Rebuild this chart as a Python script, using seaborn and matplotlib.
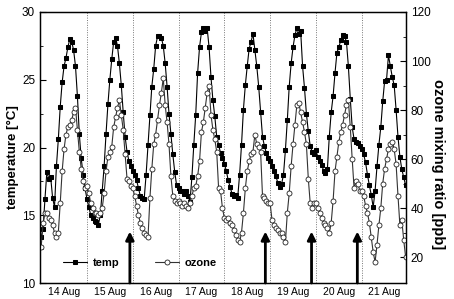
import numpy as np
import pandas as pd
import matplotlib
matplotlib.use("Agg")
from matplotlib import pyplot as plt
import seaborn as sns

# hourly values, 14 Aug 00:00 .. 21 Aug 23:00 (one line per day)
temp = [
    13.4, 14.0, 16.2, 18.2, 17.7, 17.8, 16.3, 15.6, 18.6, 20.6, 23.0, 24.8, 26.0, 26.6, 27.4, 28.0, 27.8, 27.2, 26.0, 23.8, 21.0, 19.2, 18.0, 17.0,
    16.2, 15.6, 15.0, 14.8, 14.6, 14.5, 14.3, 15.0, 16.8, 18.6, 21.0, 23.2, 25.0, 26.5, 27.8, 28.1, 27.5, 26.2, 24.6, 22.6, 20.8, 19.7, 19.0, 18.6,
    18.3, 18.0, 17.6, 17.0, 16.4, 16.3, 16.2, 18.0, 20.2, 22.4, 24.5, 25.8, 27.5, 28.2, 28.2, 28.1, 27.5, 26.2, 24.5, 22.5, 21.0, 19.5, 18.2, 17.2,
    17.0, 16.8, 16.8, 16.6, 16.8, 16.4, 16.0, 17.8, 20.2, 22.4, 25.5, 27.4, 28.5, 28.8, 28.6, 28.8, 27.4, 25.2, 23.5, 22.3, 20.8, 20.2, 19.6, 19.2,
    18.8, 18.3, 17.6, 17.1, 16.6, 16.4, 16.5, 16.3, 18.0, 20.2, 22.8, 24.6, 26.0, 27.3, 27.8, 28.4, 27.2, 26.0, 24.5, 22.6, 20.8, 20.1, 19.6, 19.2,
    19.0, 18.6, 18.3, 17.9, 17.4, 17.1, 17.3, 18.0, 19.8, 22.0, 24.5, 26.2, 27.4, 28.3, 28.8, 28.4, 28.6, 26.0, 24.4, 22.5, 21.2, 20.1, 19.7, 19.5,
    19.8, 19.3, 19.0, 18.7, 18.3, 18.1, 18.4, 20.8, 22.6, 23.8, 25.5, 27.0, 27.4, 27.9, 28.3, 28.2, 27.8, 26.0, 23.6, 21.5, 20.6, 20.4, 20.3, 20.1,
    19.9, 19.5, 18.9, 18.0, 17.2, 16.5, 15.6, 16.8, 18.6, 20.2, 21.5, 23.4, 24.9, 25.0, 26.8, 26.0, 25.2, 24.6, 22.8, 20.8, 19.3, 18.4, 17.8, 17.2,
]
ozone = [
    24, 34, 38, 38, 36, 35, 33, 30, 28, 30, 42, 55, 64, 70, 73, 74, 76, 79, 81, 72, 63, 56, 51, 48,
    49, 46, 42, 40, 38, 38, 37, 38, 40, 46, 55, 61, 63, 65, 73, 77, 81, 84, 78, 72, 62, 52, 51, 49,
    48, 45, 41, 37, 34, 32, 30, 29, 28, 44, 56, 66, 70, 76, 82, 87, 93, 82, 75, 66, 53, 45, 43, 42,
    43, 42, 41, 42, 41, 40, 42, 45, 48, 49, 53, 59, 71, 75, 81, 87, 90, 78, 72, 68, 63, 48, 47, 40,
    36, 35, 36, 34, 33, 31, 29, 27, 26, 30, 38, 48, 55, 59, 62, 63, 70, 66, 65, 63, 45, 44, 43, 42,
    42, 35, 33, 32, 31, 30, 30, 28, 26, 38, 46, 57, 66, 74, 82, 83, 79, 75, 71, 66, 52, 42, 40, 42,
    42, 40, 38, 36, 34, 33, 32, 30, 34, 43, 55, 61, 67, 71, 74, 78, 82, 84, 73, 60, 48, 51, 50, 47,
    47, 45, 41, 38, 34, 28, 22, 18, 25, 33, 40, 50, 56, 60, 64, 66, 67, 64, 58, 45, 33, 35, 27, 20,
]
day_labels = ["14 Aug", "15 Aug", "16 Aug", "17 Aug", "18 Aug", "19 Aug", "20 Aug", "21 Aug"]
arrow_hours = [46.5, 117.5, 141.7, 165.7]  # hours after 14 Aug 00:00

df = pd.DataFrame({"hour": np.arange(len(temp)), "temp": temp, "ozone": ozone})

sns.set_style("ticks")
plt.rcParams["font.family"] = ["Liberation Sans", "DejaVu Sans"]
for k in ("text.color", "axes.labelcolor", "xtick.color", "ytick.color"):
    plt.rcParams[k] = "black"

fig = plt.figure(figsize=(4.54, 2.99), dpi=100)
ax = fig.add_axes([40 / 454, 16 / 299, 366 / 454, 271 / 299])
ax2 = ax.twinx()

sns.lineplot(data=df, x="hour", y="temp", ax=ax, color="black", lw=0.8,
             marker="s", markersize=3.3, markeredgecolor="black", legend=False)
sns.lineplot(data=df, x="hour", y="ozone", ax=ax2, color="#333333", lw=0.8,
             marker="o", markersize=3.6, markerfacecolor="white",
             markeredgecolor="#222222", markeredgewidth=0.6, legend=False)
h_temp, h_oz = ax.lines[0], ax2.lines[0]

# midnight separators
for d in range(1, len(day_labels)):
    ax.axvline(24 * d, color="#777777", lw=0.7, ls=(0, (1, 1.5)), zorder=0)

for h in arrow_hours:
    ax2.annotate("", xy=(h, 13.8), xycoords=ax.transData, xytext=(h, 10),
                 textcoords=ax.transData,
                 arrowprops=dict(arrowstyle="-|>", color="black", lw=2.0,
                                 mutation_scale=12, shrinkA=0, shrinkB=0))

ax.set_xlim(-0.6, 191.2)
ax.set_ylim(10, 30)
ax2.set_ylim(9.4, 120)

ax.set_xticks([12 + 24 * i for i in range(len(day_labels))])
ax.set_xticklabels(day_labels)
ax.tick_params(axis="x", length=0, labelsize=7.5, pad=3)
ax.set_yticks([10, 15, 20, 25, 30])
ax.set_yticks(np.arange(12.5, 30, 5), minor=True)
ax.tick_params(axis="y", direction="in", length=4, width=0.8, labelsize=8.5)
ax.tick_params(axis="y", which="minor", direction="in", length=2.5, width=0.6)
ax2.set_yticks([20, 40, 60, 80, 100, 120])
ax2.set_yticks([30, 50, 70, 90, 110], minor=True)
ax2.tick_params(axis="y", direction="in", length=4, width=0.8, labelsize=8.5)
ax2.tick_params(axis="y", which="minor", direction="in", length=2.5, width=0.6)

ax.set_xlabel("")
ax.set_ylabel("temperature [°C]", fontsize=9.5, fontweight="bold")
ax.yaxis.set_label_coords(-0.058, 0.465)
ax2.set_ylabel("ozone mixing ratio [ppb]", fontsize=10.5, fontweight="bold",
               rotation=270)
ax2.yaxis.set_label_coords(1.107, 0.44)
for a in (ax, ax2):
    for s in a.spines.values():
        s.set_visible(True)
        s.set_linewidth(0.9)
        s.set_color("black")

ax2.legend([h_temp, h_oz], ["temp", "ozone"], loc="lower left",
           bbox_to_anchor=(0.035, 0.02), ncol=2, frameon=False,
           prop=dict(weight="bold", size=8), columnspacing=3.2,
           handlelength=2.2, handletextpad=0.5)

fig.savefig("out.png", dpi=100)
